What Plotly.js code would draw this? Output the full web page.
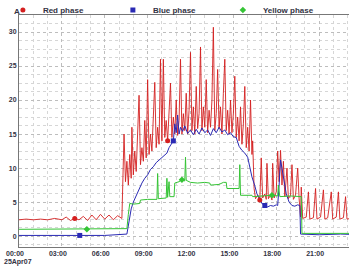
<!DOCTYPE html>
<html><head><meta charset="utf-8">
<script src="https://cdn.plot.ly/plotly-3.0.1.min.js"></script>
<style>html,body{margin:0;padding:0;overflow:hidden;background:#fff}#chart{width:362px;height:267px}</style>
</head><body><div id="chart"></div>
<script>
// time of day in hours, current in A
const redPhase = [
 [0,2.4],[0.5,2.5],[1.0,2.4],[1.5,2.5],[2.0,2.4],[2.5,2.6],[3.0,2.4],[3.3,2.8],[3.6,2.3],[3.9,2.6],
 [4.2,2.4],[4.5,2.9],[4.8,2.3],[5.1,3.1],[5.4,2.4],[5.7,3.2],[6.0,2.5],[6.3,3.1],[6.6,2.4],[6.9,3.0],[7.2,2.6],
 [7.3,9],[7.35,15],[7.45,8],[7.55,11],[7.65,7.5],[7.75,12],[7.85,8.5],[7.9,16],[8.0,9],[8.1,12.5],
 [8.2,9.5],[8.3,14],[8.4,20.7],[8.5,10.5],[8.6,13],[8.7,11],[8.8,17],[8.9,11.5],[9.0,23],[9.1,12],
 [9.2,15],[9.3,12.5],[9.4,18],[9.5,22.6],[9.6,13],[9.7,16],[9.8,13.5],[9.9,26],[10.0,14],[10.1,26],
 [10.2,14.5],[10.3,17],[10.4,14],[10.5,19],[10.6,22.5],[10.7,14.5],[10.8,17.5],[10.9,15],[11.0,20],[11.1,14.8],
 [11.2,17],[11.3,26],[11.4,15],[11.5,18],[11.6,15.5],[11.7,21],[11.8,15],[11.9,18.5],[12.0,27],[12.1,15.5],
 [12.2,19],[12.3,15],[12.4,22],[12.5,15.8],[12.6,18],[12.7,27.8],[12.8,15.5],[12.9,19],[13.0,16],[13.1,23],
 [13.2,15.2],[13.3,18.5],[13.4,16],[13.5,20],[13.6,30.7],[13.7,15.5],[13.8,18],[13.9,24.5],[14.0,15.8],[14.1,19],
 [14.2,15],[14.3,21],[14.4,26],[14.5,15.5],[14.6,18.5],[14.7,15],[14.8,20],[14.9,15.2],[15.0,18],[15.1,23.5],
 [15.2,14.5],[15.3,17.5],[15.4,14],[15.5,19],[15.6,13.5],[15.7,16.5],[15.8,22],[15.9,13],[16.0,16],[16.1,12.5],
 [16.2,20],[16.3,12],[16.35,14],
 [16.45,7],[16.55,5.5],[16.7,6],[16.85,5.3],[16.95,11.5],[17.05,5.6],[17.2,6.2],[17.3,5.4],[17.35,10.7],[17.45,5.5],
 [17.6,6],[17.7,5.3],[17.75,10.7],[17.85,5.6],[18.0,6.5],[18.1,12.5],[18.2,8],[18.3,12.6],[18.4,7.5],[18.5,11],
 [18.6,5.8],[18.75,10],[18.85,5.5],[19.0,6],[19.1,10.5],[19.2,5.4],[19.35,6],[19.5,10],[19.6,5.5],[19.7,2.8],
 [19.75,7.2],[19.85,2.6],[20.1,2.8],[20.25,6.5],[20.35,2.5],[20.6,2.7],[20.75,7],[20.85,2.5],[21.1,2.8],[21.3,6.8],
 [21.4,2.5],[21.6,2.7],[21.85,6.5],[21.95,2.5],[22.2,2.8],[22.35,6.5],[22.45,2.5],[22.7,2.7],[22.85,5.8],[22.95,2.5],
 [23.2,2.6],[23.35,6.2],[23.45,2.5],[23.7,2.7],[23.85,6],[24,2.5]
];
const bluePhase = [
 [0,0.1],[2.0,0.1],[4.25,0.1],[6.0,0.1],[7.55,0.3],[7.7,2.5],[7.85,4.0],[8.0,5.0],[8.2,6.0],[8.45,7.2],
 [8.6,7.8],[8.8,8.5],[9.0,9.0],[9.2,9.8],[9.4,10.2],[9.6,10.8],[9.8,11.2],[10.0,11.5],[10.2,11.9],[10.35,12.2],
 [10.5,13.0],[10.65,13.6],[10.8,14.0],[10.9,16.5],[11.0,15.2],[11.1,17.8],[11.2,15.0],[11.3,16.0],[11.45,15.4],[11.6,16.2],
 [11.8,15.1],[12.0,15.6],[12.2,14.9],[12.4,15.7],[12.6,15.0],[12.8,15.9],[13.0,15.2],[13.2,15.6],[13.4,14.8],[13.6,15.8],
 [13.8,15.2],[14.0,16.0],[14.2,15.3],[14.4,15.6],[14.6,14.9],[14.8,15.2],[15.0,14.6],[15.2,14.5],[15.4,13.2],[15.6,12.6],
 [15.8,12.2],[16.0,11.6],[16.15,10.0],[16.3,8.7],[16.5,7.4],[16.65,6.2],[16.85,5.5],[17.0,4.8],[17.2,4.5],[17.4,4.3],
 [17.6,4.5],[17.8,4.4],[18.0,4.6],[18.1,4.5],[18.2,7.5],[18.3,11.2],[18.4,10.0],[18.5,8.5],[18.7,6.2],[18.9,5.0],
 [19.1,4.5],[19.3,4.4],[19.5,4.6],[19.65,4.5],[19.7,0.3],[21.0,0.2],[22.5,0.3],[24,0.2]
];
const yellowPhase = [
 [0,1.0],[1.0,1.0],[2.0,1.1],[3.0,1.0],[4.0,1.1],[4.75,1.0],[5.5,1.1],[6.5,1.0],[7.55,1.1],[7.65,3.2],
 [7.75,4.8],[8.0,4.7],[8.45,4.8],[8.5,5.3],[9.0,5.4],[9.65,5.4],[9.7,9.2],[9.75,5.5],[10.3,5.6],[10.35,8.5],
 [10.4,5.7],[10.5,8.0],[10.55,5.8],[10.85,5.8],[10.9,7.8],[11.2,8.0],[11.4,8.3],[11.6,8.1],[11.65,11.6],[11.7,8.2],
 [12.0,7.9],[12.5,7.8],[13.0,7.9],[13.35,7.8],[13.4,7.5],[14.0,7.6],[14.3,7.9],[14.5,7.9],[14.55,7.0],[15.4,7.0],
 [15.45,10.5],[15.5,6.0],[16.3,6.0],[16.35,5.8],[17.0,5.9],[17.7,6.0],[18.1,5.9],[18.15,7.5],[18.25,5.8],[19.0,5.9],
 [19.75,5.8],[19.8,0.4],[21.0,0.4],[22.5,0.4],[24,0.4]
];
// hours at which each series shows its symbol
const redMarkHours = [3.9, 10.4, 16.85];
const blueMarkHours = [4.25, 10.8, 17.2];
const yellowMarkHours = [4.75, 11.4, 17.7];
const seriesNames = ['Red phase', 'Blue phase', 'Yellow phase'];
const tickHours = [0, 3, 6, 9, 12, 15, 18, 21];
const tickLabels = ['00:00', '03:00', '06:00', '09:00', '12:00', '15:00', '18:00', '21:00'];
const yTicks = [0, 5, 10, 15, 20, 25, 30];
const dateLabel = '25Apr07';
const unitLabel = 'A';

const colors = ['#d41f1f', '#2a2ab4', '#35c435'];
const symbols = ['circle', 'square', 'diamond'];
const allSeries = [redPhase, bluePhase, yellowPhase];
const allMarks = [redMarkHours, blueMarkHours, yellowMarkHours];

const traces = [];
allSeries.forEach((s, i) => {
  traces.push({
    type: 'scatter', mode: 'lines', x: s.map(p => p[0]), y: s.map(p => p[1]),
    line: {color: colors[i], width: i === 0 ? 0.9 : 1.0, shape: 'linear'},
    showlegend: false, hoverinfo: 'skip'
  });
});
allSeries.forEach((s, i) => {
  const pts = allMarks[i].map(h => s.find(p => p[0] === h));
  traces.push({
    type: 'scatter', mode: 'markers', name: seriesNames[i],
    x: pts.map(p => p[0]), y: pts.map(p => p[1]),
    marker: {color: colors[i], symbol: symbols[i], size: 5},
    hoverinfo: 'skip'
  });
});

const tf = {family: 'Liberation Sans', size: 7, color: '#333344', weight: 'bold'};
const layout = {
  width: 362, height: 267,
  margin: {l: 19, r: 0, t: 15, b: 20, pad: 0, autoexpand: false},
  paper_bgcolor: '#ffffff', plot_bgcolor: '#ffffff',
  showlegend: true,
  legend: {orientation: 'h', x: -0.047, xanchor: 'left', y: 1.022, yanchor: 'middle',
    font: {family: 'Liberation Sans', size: 8, color: '#333344', weight: 'bold'},
    entrywidth: 65, entrywidthmode: 'pixels', bgcolor: 'rgba(0,0,0,0)', borderwidth: 0,
    tracegroupgap: 0},
  xaxis: {range: [0, 24], tickmode: 'array', tickvals: tickHours, ticktext: tickLabels,
    showgrid: true, gridcolor: '#bdbdbd', griddash: 'dot', gridwidth: 1,
    minor: {dtick: 1, showgrid: true, gridcolor: '#d6d6d6', griddash: 'dot', gridwidth: 1},
    showline: true, linecolor: '#777777', linewidth: 1, mirror: true, zeroline: false,
    ticks: '', tickfont: tf, ticklabelshift: -4, automargin: false, fixedrange: true},
  yaxis: {range: [-1.6, 32.5], tickmode: 'array', tickvals: yTicks,
    showgrid: true, gridcolor: '#bdbdbd', griddash: 'dot', gridwidth: 1,
    minor: {dtick: 1.25, showgrid: true, gridcolor: '#d6d6d6', griddash: 'dot', gridwidth: 1},
    showline: true, linecolor: '#777777', linewidth: 1, mirror: true, zeroline: false,
    ticks: '', tickfont: tf, automargin: false, fixedrange: true},
  annotations: [
    {text: unitLabel, xref: 'paper', yref: 'paper', x: -0.006, y: 1.017, xanchor: 'center', yanchor: 'middle',
      showarrow: false, font: {family: 'Liberation Sans', size: 8, color: '#333344', weight: 'bold'}},
    {text: dateLabel, xref: 'paper', yref: 'paper', x: -0.05, y: -0.065, xanchor: 'left', yanchor: 'middle',
      showarrow: false, font: tf}
  ]
};
Plotly.newPlot('chart', traces, layout, {staticPlot: true, displayModeBar: false});
</script>
</body></html>
